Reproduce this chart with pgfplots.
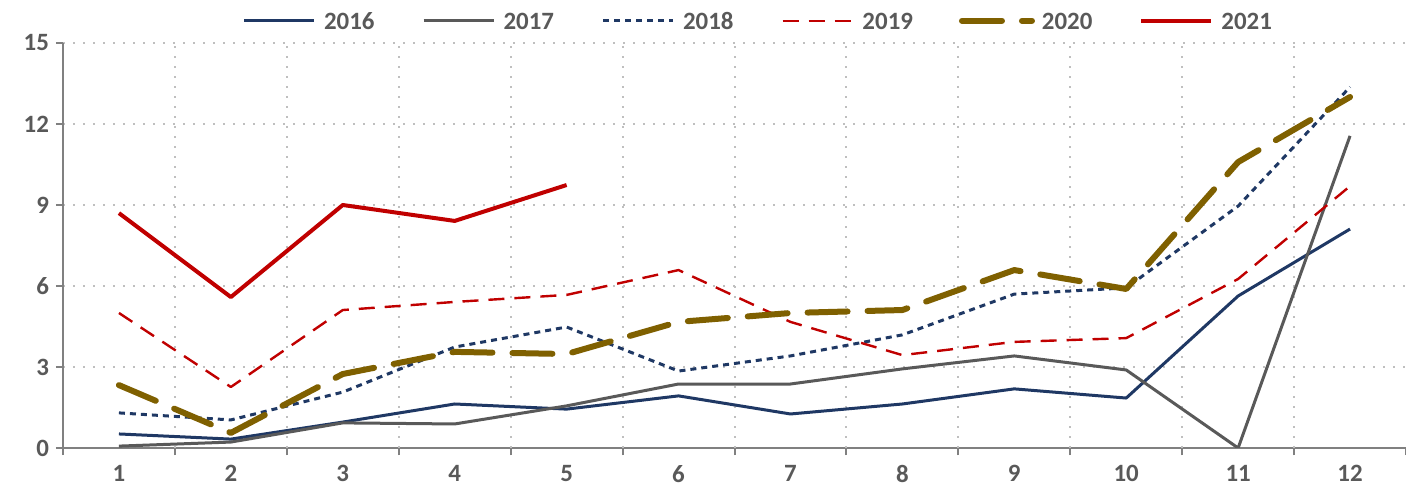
\documentclass[border=0pt]{standalone}
\usepackage{fontspec}
\setmainfont{Carlito}
\usepackage{pgfplots}
\pgfplotsset{compat=1.18}
\definecolor{navy}{HTML}{1F3864}
\definecolor{gr}{HTML}{595959}
\definecolor{dred}{HTML}{C00000}
\definecolor{olive}{HTML}{7F6000}
\definecolor{axgray}{HTML}{808080}
\definecolor{gridc}{HTML}{BFBFBF}
\begin{document}
\begin{tikzpicture}
\begin{axis}[
  scale only axis, width=671.5bp, height=202.5bp,
  xmin=0.5, xmax=12.5, ymin=0, ymax=15,
  axis x line*=bottom, axis y line*=left,
  axis line style={axgray, line width=1bp},
  tick style={axgray, line width=1bp},
  tick align=outside, major tick length=3.5bp,
  xtick={0.5,1.5,...,12.5},
  xticklabels={1,2,3,4,5,6,7,8,9,10,11,12,{}},
  xticklabel style={xshift=27.98bp, yshift=-1.5bp},
  extra x ticks={1.5,2.5,...,11.5}, extra x tick labels={},
  extra x tick style={grid=major},
  ytick={0,3,...,15},
  ymajorgrids=true,
  grid style={gridc, line width=1bp, dash pattern=on 1bp off 4bp},
  ticklabel style={font=\bfseries\fontsize{12.5}{12.5}\selectfont, text=gr},
  /pgf/number format/assume math mode=true,
  no markers,
  line join=round,
  legend columns=6,
  legend style={draw=none, fill=none, at={(0.519,1.055)}, anchor=center,
    font=\bfseries\fontsize{12.5}{12.5}\selectfont, text=gr, inner sep=0pt,
    nodes={text height=9bp, text depth=0bp},
    /tikz/every even column/.append style={column sep=22.5bp}},
  legend image code/.code={\path[draw=none, fill=none, use as bounding box] (0bp,-3bp) rectangle (38bp,3bp);
    \draw[#1] (0bp,0bp) -- (35bp,0bp);},
]
\addplot[navy, line width=1.5bp] coordinates {(1,0.52)(2,0.33)(3,0.96)(4,1.63)(5,1.44)(6,1.93)(7,1.26)(8,1.63)(9,2.19)(10,1.85)(11,5.63)(12,8.11)};
\addlegendentry{2016}
\addplot[gr, line width=1.5bp] coordinates {(1,0.07)(2,0.22)(3,0.93)(4,0.89)(5,1.56)(6,2.37)(7,2.37)(8,2.93)(9,3.41)(10,2.89)(11,0)(12,11.56)};
\addlegendentry{2017}
\addplot[navy, line width=1.5bp, dash pattern=on 3bp off 2.5bp] coordinates {(1,1.30)(2,1.04)(3,2.07)(4,3.74)(5,4.48)(6,2.85)(7,3.41)(8,4.19)(9,5.70)(10,5.93)(11,8.96)(12,13.37)};
\addlegendentry{2018}
\addplot[dred, line width=1.2bp, dash pattern=on 8bp off 5bp] coordinates {(1,5.0)(2,2.26)(3,5.11)(4,5.41)(5,5.67)(6,6.59)(7,4.67)(8,3.44)(9,3.93)(10,4.07)(11,6.26)(12,9.70)};
\addlegendentry{2019}
\addplot[olive, line width=3bp, dash pattern=on 20bp off 10bp, line cap=round] coordinates {(1,2.33)(2,0.56)(3,2.74)(4,3.56)(5,3.48)(6,4.67)(7,5.0)(8,5.11)(9,6.59)(10,5.89)(11,10.59)(12,13.0)};
\addlegendentry{2020}
\addplot[dred, line width=2bp] coordinates {(1,8.70)(2,5.59)(3,9.0)(4,8.41)(5,9.74)};
\addlegendentry{2021}
\end{axis}
\pgfresetboundingbox
\path[use as bounding box] (-31.5bp,-20bp) rectangle (671.5bp,224bp);
\end{tikzpicture}
\end{document}
